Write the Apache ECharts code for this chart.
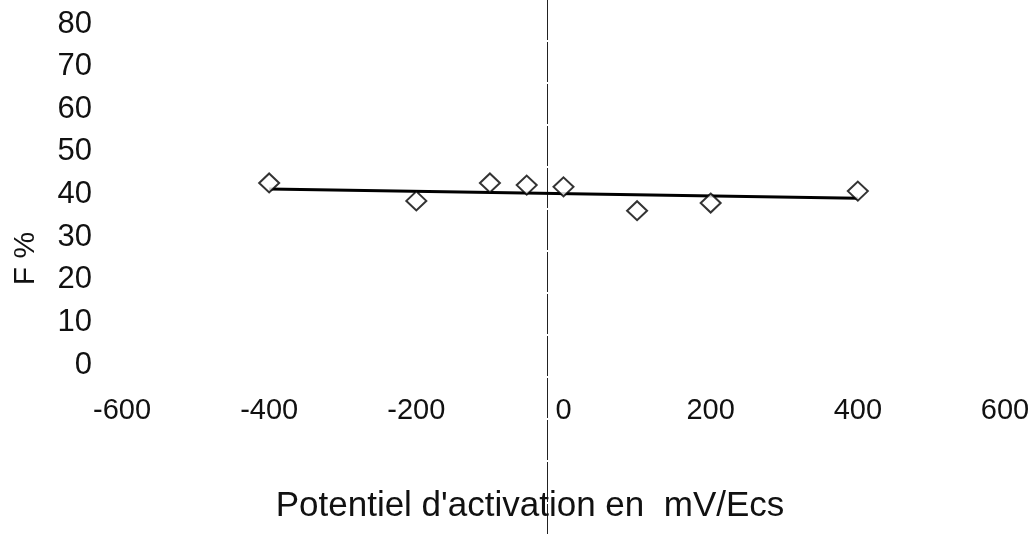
<!DOCTYPE html>
<html>
<head>
<meta charset="utf-8">
<script src="https://cdn.jsdelivr.net/npm/echarts@6/dist/echarts.min.js"></script>
<style>html,body{margin:0;padding:0;background:#fff}#c{width:1036px;height:534px}</style>
</head>
<body>
<div id="c"></div>
<script>
const potentials = [-400, -200, -100, -50, 0, 100, 200, 400];
const fValues = [42.7, 38.5, 42.7, 42.2, 41.8, 36.2, 38.0, 40.8];
const trendX = [-400, 400];
const trendY = [41.3, 39.1];
const xTicks = [-600, -400, -200, 0, 200, 400, 600];
const yTicks = [0, 10, 20, 30, 40, 50, 60, 70, 80];
const xTitle = "Potentiel d'activation en  mV/Ecs";
const yTitle = "F %";

const chart = echarts.init(document.getElementById('c'), null, {renderer: 'canvas'});
const font = "'Liberation Sans', Arial, sans-serif";
chart.setOption({
  animation: false,
  backgroundColor: '#fff',
  grid: {left: 122, right: 31, top: 24, bottom: 169, containLabel: false, outerBoundsMode: 'none'},
  xAxis: {
    type: 'value', min: xTicks[0], max: xTicks[xTicks.length - 1], interval: 200,
    axisLine: {show: false}, axisTick: {show: false}, splitLine: {show: false},
    axisLabel: {fontSize: 29, color: '#111', fontFamily: font, margin: 31},
    name: xTitle, nameLocation: 'middle', nameGap: 124,
    nameTextStyle: {fontSize: 35, color: '#111', fontFamily: font, padding: [0, 67, 0, 0]}
  },
  yAxis: {
    type: 'value', min: yTicks[0], max: yTicks[yTicks.length - 1], interval: 10,
    axisLine: {show: false}, axisTick: {show: false}, splitLine: {show: false},
    axisLabel: {fontSize: 31, color: '#111', fontFamily: font, margin: 30},
    name: yTitle, nameLocation: 'middle', nameGap: 81, nameRotate: 90,
    nameTextStyle: {fontSize: 30, color: '#111', fontFamily: font, padding: [0, 128, 0, 0]}
  },
  graphic: [{
    type: 'line', silent: true,
    shape: {x1: 547.5, y1: 0, x2: 547.5, y2: 534},
    style: {stroke: '#222', lineWidth: 1, lineDash: [40, 2]}
  }],
  series: [
    {
      type: 'line', data: trendX.map((x, i) => [x, trendY[i]]),
      symbol: 'none', lineStyle: {color: '#000', width: 3}, z: 2
    },
    {
      type: 'scatter', data: potentials.map((x, i) => [x, fValues[i]]),
      symbol: 'diamond', symbolSize: [20, 19],
      itemStyle: {color: '#fff', borderColor: '#000', borderWidth: 2}, z: 3
    }
  ]
});
</script>
</body>
</html>
